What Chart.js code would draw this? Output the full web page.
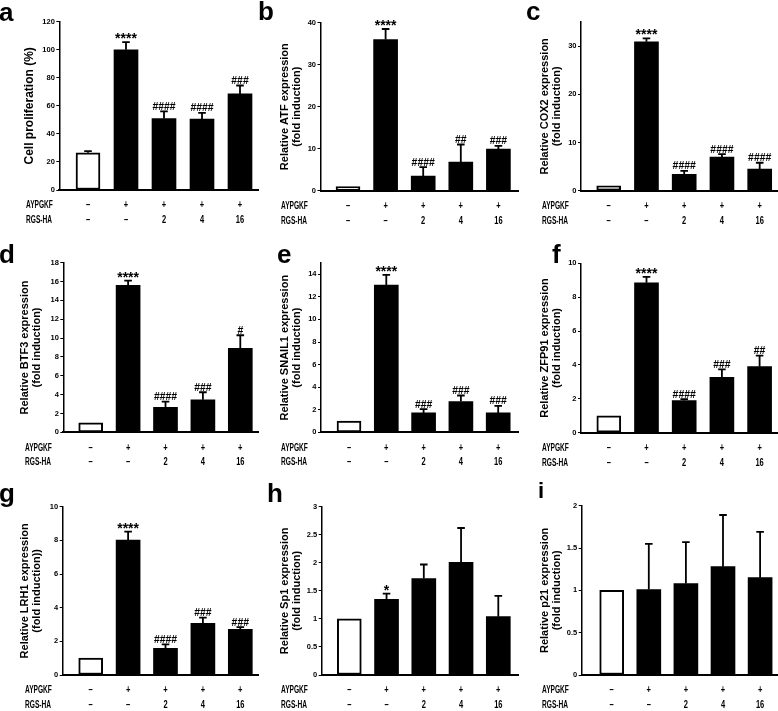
<!DOCTYPE html>
<html><head><meta charset="utf-8">
<script src="https://cdn.jsdelivr.net/npm/chart.js@4/dist/chart.umd.min.js"></script>
<style>
html,body{margin:0;padding:0;background:#fff;}
#wrap{position:relative;width:778px;height:711px;overflow:hidden;}
#wrap canvas{position:absolute;}
.lt{position:absolute;font-family:'Liberation Sans',Arial,sans-serif;font-weight:bold;font-size:26px;line-height:26px;color:#000;}
</style></head><body><div id="wrap"></div>
<script>
// ---------- data ----------
const categories = ['Control','AYPGKF','AYPGKF + RGS-HA 2','AYPGKF + RGS-HA 4','AYPGKF + RGS-HA 16'];
const rowNames = ['AYPGKF','RGS-HA'];
const aypgkfRow = ['–','+','+','+','+'];
const rgsRow = ['–','–','2','4','16'];
const panelLetters = ['a','b','c','d','e','f','g','h','i'];

const prolifMean = [26.5, 100, 51, 50.5, 68.5];
const prolifErr  = [1.2, 5.5, 5, 4.5, 6];
const prolifSig  = ['', '****', '####', '####', '###'];
const prolifTicks = [0, 20, 40, 60, 80, 100, 120];

const atfMean = [1, 36, 3.5, 6.8, 9.9];
const atfErr  = [0, 2.5, 2.1, 4.2, 0.75];
const atfSig  = ['', '****', '####', '##', '###'];
const atfTicks = [0, 10, 20, 30, 40];

const cox2Mean = [1, 30.9, 3.4, 7.0, 4.5];
const cox2Err  = [0, 0.7, 0.7, 0.6, 1.3];
const cox2Sig  = ['', '****', '####', '####', '####'];
const cox2Ticks = [0, 10, 20, 30];

const btf3Mean = [1, 15.6, 2.65, 3.45, 8.9];
const btf3Err  = [0, 0.5, 0.6, 0.8, 1.4];
const btf3Sig  = ['', '****', '####', '###', '#'];
const btf3Ticks = [0, 2, 4, 6, 8, 10, 12, 14, 16, 18];

const snail1Mean = [1, 13.05, 1.72, 2.73, 1.72];
const snail1Err  = [0, 0.9, 0.33, 0.53, 0.62];
const snail1Sig  = ['', '****', '###', '###', '###'];
const snail1Ticks = [0, 2, 4, 6, 8, 10, 12, 14];

const zfp91Mean = [1, 8.85, 1.9, 3.27, 3.9];
const zfp91Err  = [0, 0.35, 0.08, 0.47, 0.65];
const zfp91Sig  = ['', '****', '####', '###', '##'];
const zfp91Ticks = [0, 2, 4, 6, 8, 10];

const lrh1Mean = [1, 8.02, 1.58, 3.07, 2.71];
const lrh1Err  = [0, 0.5, 0.24, 0.34, 0.14];
const lrh1Sig  = ['', '****', '####', '###', '###'];
const lrh1Ticks = [0, 2, 4, 6, 8, 10];

const sp1Mean = [1, 1.35, 1.72, 2.01, 1.04];
const sp1Err  = [0, 0.1, 0.25, 0.61, 0.37];
const sp1Sig  = ['', '*', '', '', ''];
const sp1Ticks = [0, 0.5, 1, 1.5, 2, 2.5, 3];

const p21Mean = [1, 1.01, 1.08, 1.28, 1.15];
const p21Err  = [0, 0.54, 0.49, 0.61, 0.54];
const p21Sig  = ['', '', '', '', ''];
const p21Ticks = [0, 0.5, 1, 1.5, 2];

const yMaxes = [120, 40, 35, 18, 15, 10, 10, 3, 2];
const titles = [
  'Cell proliferation (%)',
  ['Relative ATF expression', '(fold induction)'],
  ['Relative COX2 expression', '(fold induction)'],
  ['Relative BTF3 expression', '(fold induction)'],
  ['Relative SNAIL1 expression', '(fold induction)'],
  ['Relative ZFP91 expression', '(fold induction)'],
  ['Relative LRH1 expression', '(fold induction))'],
  ['Relative Sp1 expression', '(fold induction)'],
  ['Relative p21 expression', '(fold induction)']
];
const means = [prolifMean, atfMean, cox2Mean, btf3Mean, snail1Mean, zfp91Mean, lrh1Mean, sp1Mean, p21Mean];
const errs  = [prolifErr, atfErr, cox2Err, btf3Err, snail1Err, zfp91Err, lrh1Err, sp1Err, p21Err];
const sigs  = [prolifSig, atfSig, cox2Sig, btf3Sig, snail1Sig, zfp91Sig, lrh1Sig, sp1Sig, p21Sig];
const tickSets = [prolifTicks, atfTicks, cox2Ticks, btf3Ticks, snail1Ticks, zfp91Ticks, lrh1Ticks, sp1Ticks, p21Ticks];

// ---------- layout (pixels) ----------
const layoutCfg = [
  {cell:[0,0,259,238],   axisX:59.3,  topY:21.7,  zeroY:190,   rightX:258, bar0:88,    step:38,    titleX:30,    labelX:26,  letter:[-1,-1]},
  {cell:[259,0,260,238], axisX:320.5, topY:22.7,  zeroY:190.7, rightX:518, bar0:348,   step:37.6,  titleX:284.5, labelX:281, letter:[258,-2]},
  {cell:[519,0,259,238], axisX:581,   topY:22,    zeroY:190.7, rightX:777, bar0:608.7, step:37.75, titleX:544.5, labelX:542, letter:[526,-2]},
  {cell:[0,230,259,242], axisX:63.3,  topY:262.7, zeroY:432.3, rightX:258, bar0:90.7,  step:37.4,  titleX:25,    labelX:25,  letter:[-1,241]},
  {cell:[259,230,260,242],axisX:321,  topY:263,   zeroY:432.3, rightX:518, bar0:349,   step:37.3,  titleX:284.5, labelX:281, letter:[277,241]},
  {cell:[519,230,259,242],axisX:581,  topY:263.3, zeroY:432.7, rightX:777, bar0:608.8, step:37.7,  titleX:544.5, labelX:542, letter:[552,241]},
  {cell:[0,465,259,246], axisX:62.7,  topY:506.7, zeroY:675,   rightX:258, bar0:90.7,  step:37.4,  titleX:24.5,  labelX:25,  letter:[-1,480]},
  {cell:[259,465,260,246],axisX:321.7,topY:506.7, zeroY:675,   rightX:518, bar0:349.3, step:37.25, titleX:284.5, labelX:281, letter:[267,480]},
  {cell:[519,465,259,246],axisX:581.7,topY:505.7, zeroY:675,   rightX:777, bar0:611.7, step:37.1,  titleX:544.5, labelX:542, letter:[538,478]}
];

const FONT = "'Liberation Sans', Arial, sans-serif";
const wrap = document.getElementById('wrap');

function condText(ctx, text, x, y, align, font, sx, baseline) {
  ctx.save();
  ctx.font = font;
  ctx.textAlign = align;
  ctx.textBaseline = baseline || 'middle';
  ctx.fillStyle = '#000';
  ctx.translate(x, y);
  ctx.scale(sx, 1);
  ctx.fillText(text, 0, 0);
  ctx.restore();
}

panelLetters.forEach((L, k) => {
  const lc = layoutCfg[k];
  const [x0, y0, w, h] = lc.cell;
  const mean = means[k], err = errs[k], sig = sigs[k], ticks = tickSets[k];
  const isMulti = Array.isArray(titles[k]);
  const tSize = k === 0 ? 12 : 11;
  const tLH = 1.12;

  const cv = document.createElement('canvas');
  cv.width = w; cv.height = h;
  cv.style.left = x0 + 'px'; cv.style.top = y0 + 'px';
  cv.style.width = w + 'px'; cv.style.height = h + 'px';
  wrap.appendChild(cv);

  const lt = document.createElement('div');
  lt.className = 'lt';
  lt.textContent = L;
  lt.style.left = lc.letter[0] + 'px';
  lt.style.top = lc.letter[1] + 'px';
  if (L === 'i') { lt.style.fontSize = '22px'; }
  wrap.appendChild(lt);

  const yW = lc.axisX - x0;
  const xH = (y0 + h) - lc.zeroY;
  const xMin = -(lc.bar0 - lc.axisX) / lc.step;
  const xMax = (lc.rightX - lc.bar0) / lc.step;

  const panelPlugin = {
    id: 'panel' + L,
    afterDatasetsDraw(chart) {
      const ctx = chart.ctx, xs = chart.scales.x, ys = chart.scales.y;
      ctx.save();
      ctx.strokeStyle = '#000';
      ctx.lineWidth = 1.8;
      mean.forEach((v, i) => {
        const e = err[i];
        if (!e) return;
        const x = xs.getPixelForValue(i);
        const yb = ys.getPixelForValue(v);
        const yt = ys.getPixelForValue(v + e);
        ctx.beginPath();
        ctx.moveTo(x, yb); ctx.lineTo(x, yt);
        ctx.moveTo(x - 3.8, yt); ctx.lineTo(x + 3.8, yt);
        ctx.stroke();
      });
      ctx.restore();
    },
    afterDraw(chart) {
      const ctx = chart.ctx, xs = chart.scales.x, ys = chart.scales.y;
      const base = ys.getPixelForValue(0);
      mean.forEach((v, i) => {
        const x = xs.getPixelForValue(i);
        const s = sig[i];
        if (s) {
          const yt = ys.getPixelForValue(v + (err[i] || 0));
          if (s[0] === '*') condText(ctx, s, x, yt + 1, 'center', 'bold 14px ' + FONT, 1.0, 'alphabetic');
          else condText(ctx, s, x, yt - 1.5, 'center', 'bold 11px ' + FONT, 0.95, 'alphabetic');
        }
        condText(ctx, aypgkfRow[i], x, base + 15.5, 'center', 'bold 10px ' + FONT, 0.75);
        condText(ctx, rgsRow[i], x, base + 30.3, 'center', 'bold 10px ' + FONT, 0.75);
      });
      condText(ctx, rowNames[0], lc.labelX - x0, base + 15.5, 'left', 'bold 10px ' + FONT, 0.66);
      condText(ctx, rowNames[1], lc.labelX - x0, base + 30.3, 'left', 'bold 10px ' + FONT, 0.66);
    }
  };

  new Chart(cv, {
    type: 'bar',
    data: {
      labels: categories,
      datasets: [{
        label: isMulti ? titles[k][0] : titles[k],
        data: mean.map((v, i) => ({x: i, y: v})),
        backgroundColor: mean.map((v, i) => i === 0 ? '#ffffff' : '#000000'),
        borderColor: '#000000',
        borderWidth: mean.map((v, i) => i === 0 ? 2 : 0),
        borderSkipped: false,
        barThickness: 24
      }]
    },
    options: {
      responsive: false,
      animation: false,
      devicePixelRatio: 1,
      layout: {padding: {left: 0, top: lc.topY - y0, right: (x0 + w) - lc.rightX, bottom: 0}},
      plugins: {legend: {display: false}, tooltip: {enabled: false}},
      scales: {
        x: {
          type: 'linear',
          offset: false,
          min: xMin, max: xMax,
          grid: {display: false, offset: false},
          ticks: {display: false},
          border: {display: true, color: '#000', width: 2},
          afterFit: (s) => { s.height = xH; }
        },
        y: {
          type: 'linear',
          min: 0, max: yMaxes[k],
          bounds: 'data',
          afterBuildTicks: (s) => { s.ticks = ticks.map(v => ({value: v})); },
          grid: {display: true, drawOnChartArea: false, drawTicks: true, tickLength: 3, color: '#000', lineWidth: 1},
          border: {display: true, color: '#000', width: 1.5},
          ticks: {
            color: '#000', padding: 1.5,
            font: {family: FONT, size: 7.5, weight: 'bold'},
            callback: (v) => String(v)
          },
          title: {
            display: true,
            text: titles[k],
            color: '#000',
            font: {family: FONT, size: tSize, weight: 'bold', lineHeight: tLH},
            padding: {top: lc.titleX - x0 - tSize * tLH / 2, bottom: 0}
          },
          afterFit: (s) => { s.width = yW; }
        }
      }
    },
    plugins: [panelPlugin]
  });
});
</script>
</body></html>
